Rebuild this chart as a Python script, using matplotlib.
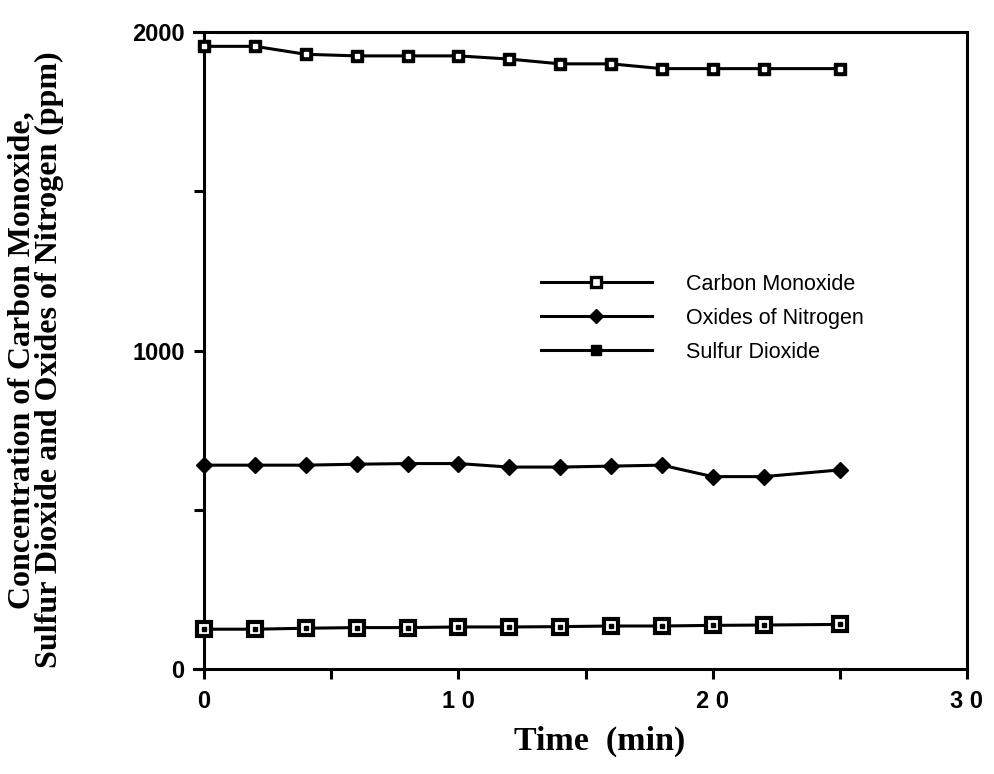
import numpy as np
import matplotlib
matplotlib.use("Agg")
import matplotlib.pyplot as plt
from matplotlib.lines import Line2D

# -----------------------------
# Data
# -----------------------------
time_min = [0, 2, 4, 6, 8, 10, 12, 14, 16, 18, 20, 22, 25]
carbon_monoxide = [125, 125, 128, 130, 130, 132, 132, 133, 135, 135, 137, 138, 140]
oxides_of_nitrogen = [640, 640, 640, 643, 645, 645, 634, 634, 637, 640, 604, 604, 625]
sulfur_dioxide = [1955, 1955, 1930, 1925, 1925, 1925, 1915, 1900, 1900, 1885, 1885, 1885, 1885]

x_ticks = [0, 10, 20, 30]
x_tick_labels = ["0", "1 0", "2 0", "3 0"]
y_ticks = [0, 1000, 2000]
y_tick_labels = ["0", "1000", "2000"]

SANS = "Liberation Sans"
SERIF = "Liberation Serif"
LW = 2.2

fig = plt.figure(figsize=(9.95, 7.74), dpi=100)
ax = fig.add_axes([194 / 995, 1 - 669 / 774, (967 - 194) / 995, (669 - 32) / 774])

# CO: hollow square with a dot in the middle
ax.plot(time_min, carbon_monoxide, color="black", lw=LW, marker="s", ms=9.5,
        mfc="white", mec="black", mew=3, zorder=3)
ax.plot(time_min, carbon_monoxide, ls="none", marker="s", ms=2.2,
        mfc="black", mec="black", zorder=4)

# NOx: filled diamond
ax.plot(time_min, oxides_of_nitrogen, color="black", lw=LW, marker="D", ms=8.5,
        mfc="black", mec="black", zorder=3)

# SO2: filled square with small white centre
ax.plot(time_min, sulfur_dioxide, color="black", lw=LW, marker="s", ms=9,
        mfc="black", mec="black", zorder=3)
ax.plot(time_min, sulfur_dioxide, ls="none", marker="s", ms=2.2,
        mfc="white", mec="white", zorder=4)

ax.set_xlim(-0.4, 30)
ax.set_ylim(0, 2000)

for s in ax.spines.values():
    s.set_linewidth(2.2)
ax.spines["left"].set_position(("data", 0))

ax.set_xticks(x_ticks)
ax.set_xticklabels(x_tick_labels, fontfamily=SANS, fontweight="bold", fontsize=17)
ax.set_xticks([5, 15, 25], minor=True)
ax.set_yticks(y_ticks)
ax.set_yticklabels(y_tick_labels, fontfamily=SANS, fontweight="bold", fontsize=17)
ax.set_yticks([500, 1500], minor=True)
ax.tick_params(which="both", direction="out", length=7, width=2.2)
ax.tick_params(axis="x", which="major", pad=8)
ax.tick_params(axis="y", which="major", pad=7)

# legend
handles = [
    Line2D([], [], color="black", lw=LW, marker="s", ms=7.5, mfc="white", mec="black", mew=2.4),
    Line2D([], [], color="black", lw=LW, marker="D", ms=7.5, mfc="black", mec="black"),
    Line2D([], [], color="black", lw=LW, marker="s", ms=7, mfc="black", mec="black"),
]
labels = ["Carbon Monoxide", "Oxides of Nitrogen", "Sulfur Dioxide"]
ax.legend(handles, labels, loc="upper left", bbox_to_anchor=(541 / 995, 1 - 274 / 774),
          bbox_transform=fig.transFigure, frameon=False, prop={"family": SANS, "size": 15.5},
          handlelength=5.15, handletextpad=1.58, labelspacing=0.6, borderpad=0, borderaxespad=0)

fig.text(36 / 995, 1 - 360 / 774,
         "Concentration of Carbon Monoxide,\nSulfur Dioxide and Oxides of Nitrogen (ppm)",
         rotation=90, ha="center", va="center", multialignment="center",
         fontfamily=SERIF, fontweight="bold", fontsize=23, linespacing=0.92)
fig.text(600 / 995, 1 - 741 / 774, "Time  (min)", ha="center", va="center",
         fontfamily=SERIF, fontweight="bold", fontsize=24.5)

fig.savefig("out.png", dpi=100)
